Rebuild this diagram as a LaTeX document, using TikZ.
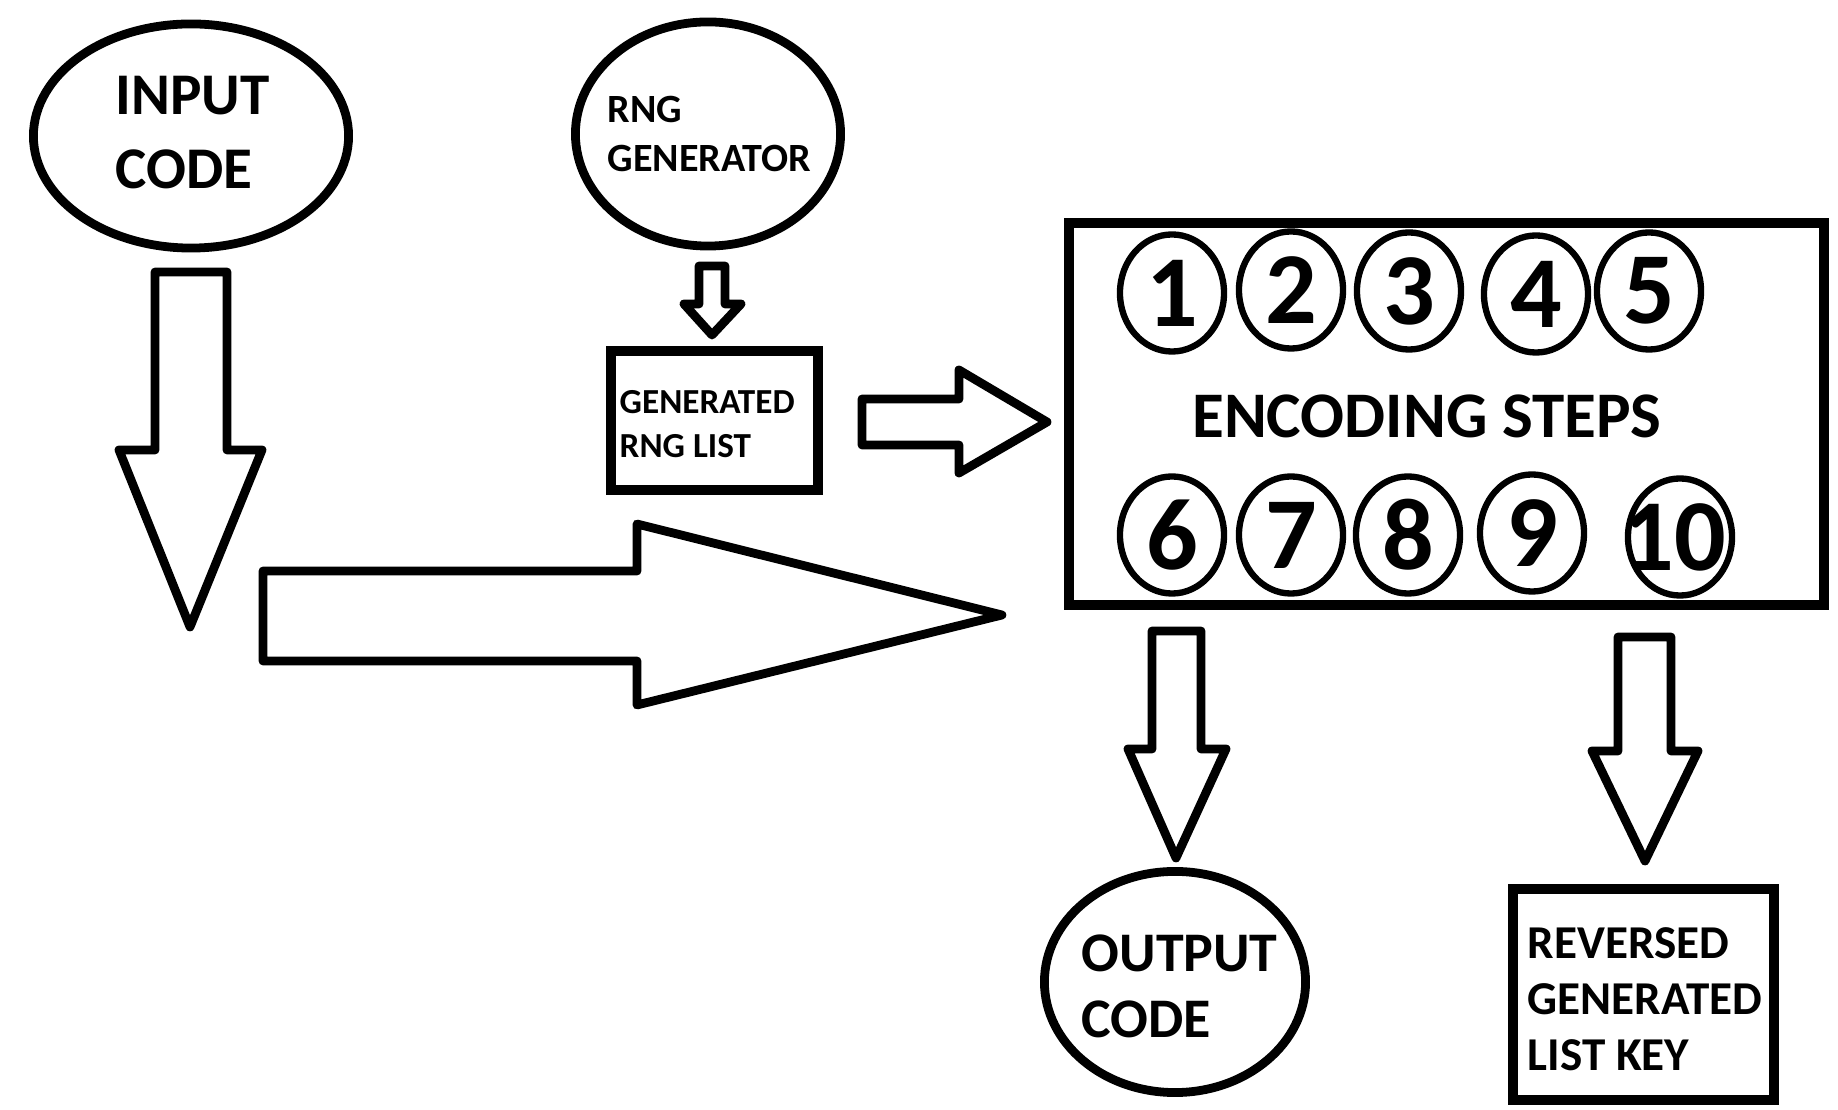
\documentclass[tikz,border=0pt]{standalone}
\usepackage{fontspec}
\setmainfont{Carlito}
\usetikzlibrary{shapes.geometric}
\begin{document}
\begin{tikzpicture}[x=0.01cm,y=-0.01cm,
  bigell/.style={draw, ellipse, line width=2.5pt, inner sep=0pt},
  boxnode/.style={draw, rectangle, line width=2.85pt, inner sep=0pt},
  stepell/.style={draw, ellipse, line width=1.8pt, inner sep=0pt, minimum width=1.04cm, minimum height=1.17cm, font=\fontsize{29}{30}\selectfont\bfseries},
  blockarrow/.style={draw, line width=2.5pt, line join=round},
  lbl/.style={inner sep=0pt, anchor=north west, align=left},
]
\useasboundingbox (0,0) rectangle (1838,1110);
\fill[white] (0,0) rectangle (1838,1110);

% ellipses
\node[bigell, minimum width=3.15cm, minimum height=2.24cm] (inputcode) at (191,136) {};
\node[lbl, font=\fontsize{16.8}{21.3}\selectfont\bfseries] (inputcodetxt) at (115,75) {INPUT\\CODE};

\node[bigell, minimum width=2.65cm, minimum height=2.24cm] (rnggen) at (708,134) {};
\node[lbl, font=\fontsize{11.4}{13.9}\selectfont\bfseries] (rnggentxt) at (607,96) {RNG\\GENERATOR};

\node[bigell, minimum width=2.61cm, minimum height=2.21cm] (outcode) at (1175,982) {};
\node[lbl, font=\fontsize{15.9}{18.8}\selectfont\bfseries] (outcodetxt) at (1081,934) {OUTPUT\\CODE};

% boxes
\node[boxnode, minimum width=2.07cm, minimum height=1.39cm] (rnglist) at (714.5,420.5) {};
\node[lbl, font=\fontsize{10}{12.5}\selectfont\bfseries] (rnglisttxt) at (619,390) {GENERATED\\RNG LIST};

\node[boxnode, minimum width=7.55cm, minimum height=3.82cm] (encbox) at (1446.5,414) {};
\node[inner sep=0pt, anchor=base, font=\fontsize{18.5}{20}\selectfont\bfseries] (enctxt) at (1427,438) {ENCODING STEPS};

\node[boxnode, minimum width=2.61cm, minimum height=2.11cm] (revkey) at (1643.5,994.5) {};
\node[lbl, font=\fontsize{13.4}{15.9}\selectfont\bfseries] (revkeytxt) at (1527,927) {REVERSED\\GENERATED\\LIST KEY};

% steps
\node[stepell] (s1) at (1172,293) {1};
\node[stepell] (s2) at (1291,290) {2};
\node[stepell] (s3) at (1409,291) {3};
\node[stepell] (s4) at (1536,294) {4};
\node[stepell] (s5) at (1649,291) {5};
\node[stepell] (s6) at (1172,535) {6};
\node[stepell] (s7) at (1291,535) {7};
\node[stepell] (s8) at (1408,535) {8};
\node[stepell] (s9) at (1532,533) {9};
\node[stepell, inner xsep=-0.4cm] (s10) at (1680,537) {\hspace*{-0.12cm}10};

% block arrows
\draw[blockarrow] (155,272) -- (227,272) -- (227,450) -- (262,450) -- (190,627) -- (119,450) -- (155,450) -- cycle;
\draw[blockarrow] (263,571) -- (637,571) -- (637,524) -- (1002,615) -- (637,705) -- (637,661) -- (263,661) -- cycle;
\draw[blockarrow] (862,399) -- (959,399) -- (959,370) -- (1047,422) -- (959,473) -- (959,445) -- (862,445) -- cycle;
\draw[blockarrow] (699,266) -- (725,266) -- (725,304) -- (741,304) -- (712,335) -- (684,304) -- (699,304) -- cycle;
\draw[blockarrow] (1152,631) -- (1201,631) -- (1201,749) -- (1226,749) -- (1176,858) -- (1128,749) -- (1152,749) -- cycle;
\draw[blockarrow] (1618,637) -- (1671,637) -- (1671,751) -- (1698,751) -- (1645,861) -- (1592,751) -- (1618,751) -- cycle;
\end{tikzpicture}
\end{document}
